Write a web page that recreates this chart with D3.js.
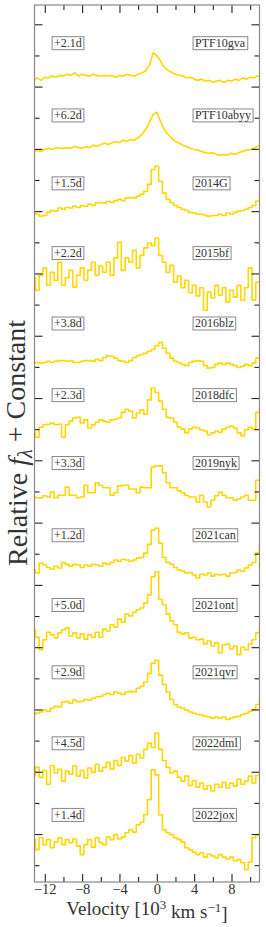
<!DOCTYPE html>
<meta charset="utf-8">
<title>Line profiles</title>
<style>
body { margin: 0; background: #fff; }
text { font-family: "Liberation Serif", "DejaVu Serif", serif; fill: #333; }
</style>
<body>
<svg></svg>
<script src="https://cdnjs.cloudflare.com/ajax/libs/d3/7.8.5/d3.min.js"></script>
<script>

// velocity grid, 10^3 km/s
var velocity = [-13.2,-12.8,-12.4,-12.0,-11.6,-11.2,-10.8,-10.4,-10.0,-9.6,
    -9.2,-8.8,-8.4,-8.0,-7.6,-7.2,-6.8,-6.4,-6.0,-5.6,
    -5.2,-4.8,-4.4,-4.0,-3.6,-3.2,-2.8,-2.4,-2.0,-1.6,
    -1.2,-0.8,-0.4,0.0,0.4,0.8,1.2,1.6,2.0,2.4,
    2.8,3.2,3.6,4.0,4.4,4.8,5.2,5.6,6.0,6.4,
    6.8,7.2,7.6,8.0,8.4,8.8,9.2,9.6,10.0,10.4,
    10.8,11.2];

var names   = ["PTF10gva","PTF10abyy","2014G","2015bf","2016blz","2018dfc","2019nyk","2021can","2021ont","2021qvr","2022dml","2022jox"];
var phases  = ["+2.1d","+6.2d","+1.5d","+2.2d","+3.8d","+2.3d","+3.3d","+1.2d","+5.0d","+2.9d","+4.5d","+1.4d"];
var offsets = [12.12,10.96,9.87,8.75,7.62,6.47,5.38,4.22,3.10,2.02,0.88,-0.27];
var binned  = [false,false,true,true,true,true,true,true,true,true,true,true];

var flux_PTF10gva = [-0.02,0.02,-0.02,0.03,0.02,0.05,0.03,0.06,0.05,0.08,
    0.06,0.10,0.05,0.08,0.06,0.05,0.08,0.06,0.05,0.06,
    0.05,0.06,0.03,0.06,0.05,0.08,0.06,0.05,0.08,0.10,
    0.13,0.22,0.42,0.38,0.29,0.19,0.14,0.11,0.08,0.06,
    0.05,0.02,0.03,0,-0.02,0,-0.03,-0.02,-0.05,-0.03,
    -0.02,-0.05,-0.02,-0.03,0,-0.02,0.02,0,0.03,0.02,
    0.05,0.06];
var flux_PTF10abyy = [-0.02,0.02,0,0.03,0.05,0.03,0.06,0.05,0.05,0.06,
    0.05,0.08,0.06,0.05,0.08,0.06,0.10,0.08,0.11,0.13,
    0.11,0.14,0.16,0.14,0.18,0.16,0.19,0.18,0.22,0.27,
    0.35,0.47,0.59,0.63,0.48,0.35,0.27,0.21,0.16,0.13,
    0.10,0.08,0.05,0.03,0.02,0,-0.02,-0.03,-0.02,-0.05,
    -0.06,-0.05,-0.06,-0.03,-0.05,-0.02,0,0.02,0.03,0.05,
    0.08,0.11];
var flux_2014G = [0.10,0.08,0.05,0.06,0.11,0.14,0.13,0.18,0.16,0.19,
    0.18,0.21,0.19,0.22,0.21,0.24,0.22,0.26,0.27,0.26,
    0.29,0.27,0.30,0.32,0.30,0.34,0.35,0.34,0.37,0.40,
    0.45,0.56,0.80,0.85,0.61,0.42,0.32,0.27,0.22,0.19,
    0.16,0.14,0.11,0.10,0.08,0.08,0.06,0.05,0.06,0.06,
    0.08,0.06,0.10,0.08,0.11,0.13,0.14,0.16,0.19,0.22,
    0.29,0.38];
var flux_2015bf = [0.18,-0.02,0.22,0.34,0.06,0.27,0.14,0.43,0.06,0.18,
    0.30,0.03,0.22,0.34,0.14,0.30,0.43,0.22,0.37,0.27,
    0.43,0.22,0.50,0.75,0.30,0.50,0.43,0.62,0.34,0.54,
    0.66,0.74,0.70,0.82,0.54,0.43,0.27,0.38,0.11,0.21,
    0.02,0.14,-0.06,0.06,-0.11,0.02,-0.34,-0.05,-0.14,0.06,
    -0.10,0.02,-0.21,-0.02,-0.13,0.06,-0.18,0.02,0.34,-0.18,
    0.11,0.14];
var flux_2016blz = [-0.06,-0.05,-0.06,-0.05,-0.03,-0.05,-0.03,-0.02,-0.02,-0.03,
    -0.02,-0.05,-0.05,-0.03,-0.02,-0.02,-0.03,0,-0.02,0.03,
    0.06,0.05,0.02,-0.02,-0.03,-0.05,-0.02,0.03,0.06,0.08,
    0.10,0.13,0.16,0.22,0.27,0.18,0.10,0.02,-0.03,-0.05,
    -0.08,-0.10,-0.05,-0.03,-0.02,-0.03,-0.10,-0.14,-0.13,-0.08,
    -0.06,-0.08,-0.06,-0.08,-0.10,-0.13,-0.11,-0.08,-0.10,-0.06,
    0.02,0.06];
var flux_2018dfc = [-0.02,-0.10,0.06,0.10,0.11,0.13,0.10,0.11,-0.10,0.10,
    0.16,0.21,0.22,0.13,0.18,0.05,0.10,0.14,0.18,0.16,
    0.14,0.18,0.19,0.21,0.30,0.35,0.32,0.21,0.29,0.34,
    0.27,0.50,0.69,0.62,0.48,0.35,0.22,0.21,0.14,0.06,
    0.03,-0.03,0.03,0.06,0.05,0.02,0,-0.06,-0.03,0,
    -0.02,0.03,0.06,0.08,0.05,-0.03,-0.08,0.02,0.06,0.03,
    0.30,0.26];
var flux_2019nyk = [0.03,0.02,0.02,0.05,0.03,0.11,0.02,0.06,0.06,0.19,
    0.06,0.06,0.02,0.03,0.22,0.10,0.10,0.26,0.22,0.18,
    0.18,0.06,0.10,0.21,0.22,0.22,0.16,0.16,0.10,0.19,
    0.18,0.18,0.51,0.53,0.53,0.42,0.26,0.18,0.18,0.13,
    0.10,0.06,0.03,0.03,-0.05,0.06,-0.05,-0.13,-0.02,0.05,
    0.11,0.06,0.02,0.02,-0.02,0,0.03,0.06,-0.02,-0.02,
    0.30,0.30];
var flux_2021can = [0.02,-0.03,0.13,0.10,0.06,0.03,0.08,0.05,0.14,0.11,
    0.08,0.11,0.10,0.06,0.10,0.08,0.11,0.10,0.08,0.13,
    0.11,0.14,0.18,0.16,0.19,0.18,0.16,0.18,0.21,0.22,
    0.29,0.43,0.66,0.69,0.45,0.22,0.14,0.11,0.06,0.02,
    0,-0.03,-0.02,-0.06,-0.11,-0.05,-0.06,-0.03,-0.08,-0.05,
    -0.06,-0.05,-0.08,-0.03,-0.02,0.02,0,0.05,0.10,0.14,
    0.29,0.42];
var flux_2021ont = [0.18,0.06,-0.14,0.02,0.14,0.10,0.05,0.13,0.18,0.21,
    0.08,0.13,0.05,0.11,0.03,0.10,0.06,0.14,0.06,0.19,
    0.16,0.26,0.22,0.35,0.30,0.43,0.40,0.46,0.50,0.53,
    0.61,0.74,1.03,1.11,0.67,0.58,0.43,0.32,0.26,0.14,
    0.11,0.13,0.05,0.06,0.02,0.03,-0.05,0,-0.08,-0.03,
    -0.19,-0.06,-0.05,-0.13,-0.08,-0.22,-0.10,-0.14,-0.05,0.02,
    0.13,0.18];
var flux_2021qvr = [-0.10,-0.08,-0.06,-0.03,-0.05,0,0.03,0.02,0.10,0.11,
    0.08,0.13,0.10,0.11,0.14,0.13,0.16,0.18,0.19,0.22,
    0.24,0.22,0.26,0.24,0.22,0.26,0.27,0.26,0.32,0.35,
    0.42,0.56,0.72,0.77,0.53,0.38,0.26,0.14,0.06,0.02,
    0,-0.03,-0.06,-0.08,-0.10,-0.11,-0.13,-0.14,-0.16,-0.14,
    -0.16,-0.14,-0.18,-0.16,-0.14,-0.13,-0.10,-0.08,-0.05,-0.02,
    0.06,0.13];
var flux_2022dml = [0.06,0.19,0.03,0.14,-0.08,0.22,0.10,0.16,-0.03,0.13,
    0.08,0.21,0.05,0.14,0.02,0.18,0.11,0.24,0.13,0.19,
    0.27,0.16,0.30,0.22,0.35,0.29,0.38,0.26,0.40,0.34,
    0.48,0.58,0.51,0.74,0.48,0.30,0.19,0.10,0.13,0.03,
    -0.03,0.05,-0.10,-0.02,-0.13,-0.06,-0.16,-0.10,-0.19,-0.08,
    -0.13,-0.05,-0.14,-0.06,-0.11,0,-0.08,-0.03,0.05,-0.06,
    0.06,0.10];
var flux_2022jox = [0.18,0.02,0.21,0.10,0.18,0.05,0.14,0.21,0.10,0.18,
    0.13,0.19,0.08,-0.06,0.10,0.18,0.06,0.21,0.13,0.10,
    0.22,0.18,0.26,0.19,0.22,0.29,0.34,0.30,0.42,0.46,
    0.58,0.82,1.30,1.22,0.58,0.34,0.29,0.26,0.21,0.18,
    0.14,0.05,0.02,-0.02,-0.06,-0.03,-0.10,-0.05,-0.08,-0.11,
    -0.06,-0.10,-0.13,-0.10,-0.16,-0.14,-0.19,-0.30,-0.18,0.21,
    0.26,0.22];

var fluxes = [flux_PTF10gva, flux_PTF10abyy, flux_2014G, flux_2015bf, flux_2016blz, flux_2018dfc,
    flux_2019nyk, flux_2021can, flux_2021ont, flux_2021qvr, flux_2022dml, flux_2022jox];

var xMajor = [-12, -8, -4, 0, 4, 8],
    xMinor = [-10, -6, -2, 2, 6, 10],
    yMajor = d3.range(0, 14),
    yMinor = d3.range(-0.5, 13, 1);

var width = 266, height = 927,
    plotL = 34.5, plotR = 259.5, plotT = 5, plotB = 882;

var svg = d3.select("svg").attr("width", width).attr("height", height);

var x = d3.scaleLinear().domain([-13.1, 11.0]).range([plotL, plotR]),
    y = d3.scaleLinear().domain([-0.77, 13.31]).range([plotB, plotT]);

svg.append("clipPath").attr("id", "frame")
  .append("rect").attr("x", plotL).attr("y", plotT).attr("width", plotR - plotL).attr("height", plotB - plotT);

var lines = svg.append("g").attr("clip-path", "url(#frame)");

fluxes.forEach(function(f, i) {
    var line = d3.line()
        .x((d, j) => x(velocity[j]))
        .y(d => y(offsets[i] + d))
        .curve(binned[i] ? d3.curveStep : d3.curveLinear);
    lines.append("path")
        .datum(f)
        .attr("d", line)
        .attr("fill", "none")
        .attr("stroke", "#FFD700")
        .attr("stroke-width", 1.6)
        .attr("stroke-linejoin", "round");
});

// label boxes
function boxed(tx, ty, txt) {
    var g = svg.append("g");
    var t = g.append("text").attr("x", tx).attr("y", ty).attr("dy", "0.35em")
        .style("font-size", "12px").text(txt);
    var b = t.node().getBBox();
    g.insert("rect", "text")
        .attr("x", b.x - 2).attr("y", b.y + 0.5)
        .attr("width", b.width + 4).attr("height", b.height - 1)
        .attr("fill", "white").attr("stroke", "#888").attr("stroke-width", 1);
}
names.forEach(function(n, i) {
    boxed(x(-11.0), y(offsets[i] + 0.58), phases[i]);
    boxed(x(4.1), y(offsets[i] + 0.58), n);
});

// axes, ticks inward
function ticks(axis, vals, size) {
    return axis.tickValues(vals).tickSize(-size).tickPadding(2);
}
var gx = svg.append("g").attr("transform", "translate(0," + plotB + ")")
    .call(ticks(d3.axisBottom(x), xMajor, 8).tickFormat(d3.format("d")));
svg.append("g").attr("transform", "translate(0," + plotB + ")")
    .call(ticks(d3.axisBottom(x), xMinor, 5).tickFormat(""));
svg.append("g").attr("transform", "translate(0," + plotT + ")")
    .call(ticks(d3.axisTop(x), xMajor, 8).tickFormat(""));
svg.append("g").attr("transform", "translate(0," + plotT + ")")
    .call(ticks(d3.axisTop(x), xMinor, 5).tickFormat(""));
svg.append("g").attr("transform", "translate(" + plotL + ",0)")
    .call(ticks(d3.axisLeft(y), yMajor, 8).tickFormat(""));
svg.append("g").attr("transform", "translate(" + plotL + ",0)")
    .call(ticks(d3.axisLeft(y), yMinor, 5).tickFormat(""));
svg.append("g").attr("transform", "translate(" + plotR + ",0)")
    .call(ticks(d3.axisRight(y), yMajor, 8).tickFormat(""));
svg.append("g").attr("transform", "translate(" + plotR + ",0)")
    .call(ticks(d3.axisRight(y), yMinor, 5).tickFormat(""));

svg.selectAll(".domain").remove();
svg.selectAll(".tick line").attr("stroke", "#222").attr("stroke-width", 1.1);
gx.selectAll("text").style("font-size", "14.5px").attr("fill", "#444")
    .style("font-family", "'Liberation Serif', serif");

svg.append("rect")
    .attr("x", plotL).attr("y", plotT).attr("width", plotR - plotL).attr("height", plotB - plotT)
    .attr("fill", "none").attr("stroke", "#888").attr("stroke-width", 1.2);

// axis titles
var xt = svg.append("text").attr("x", 147).attr("y", 915)
    .attr("text-anchor", "middle").style("font-size", "19px").attr("fill", "#444");
xt.append("tspan").text("Velocity [10");
xt.append("tspan").attr("dy", "-0.45em").style("font-size", "13px").text("3");
xt.append("tspan").attr("dy", "0.45em").text(" km s");
xt.append("tspan").attr("dy", "-0.45em").style("font-size", "13px").text("\u22121");
xt.append("tspan").attr("dy", "0.45em").text("]");

var yt = svg.append("text").attr("transform", "translate(27,443) rotate(-90)")
    .attr("text-anchor", "middle").style("font-size", "28px").attr("fill", "#333");
yt.append("tspan").text("Relative ");
yt.append("tspan").style("font-style", "italic").text("f");
yt.append("tspan").attr("dy", "0.25em").style("font-size", "20px").style("font-style", "italic").text("\u03bb");
yt.append("tspan").attr("dy", "-0.25em").text(" + Constant");

</script>
</body>
